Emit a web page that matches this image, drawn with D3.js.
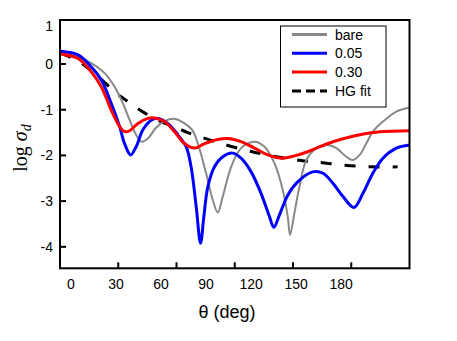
<!DOCTYPE html>
<html><head><meta charset="utf-8">
<script src="https://cdn.jsdelivr.net/npm/d3@7"></script>
<style>body{margin:0;background:#fff}svg{display:block}text{font-family:Arial,"Liberation Sans",sans-serif}</style>
</head><body><svg id="c" width="457" height="341"></svg>
<script>
// series: [theta (deg), log sigma_d]
const bare = [[-6.9,0.23],[4.7,0.16],[13.5,0.02],[22.4,-0.20],[29.1,-0.50],[34.6,-0.86],[39.1,-1.23],[43.4,-1.55],[47.2,-1.70],[51.2,-1.63],[56.8,-1.39],[62.3,-1.25],[69.0,-1.20],[75.6,-1.30],[80.7,-1.44],[84.5,-1.74],[90.0,-2.39],[94.5,-2.98],[97.8,-3.25],[101.1,-2.90],[106.7,-2.25],[113.3,-1.84],[122.2,-1.70],[128.9,-1.81],[135.5,-2.17],[141.1,-2.76],[144.4,-3.34],[145.9,-3.74],[148.8,-3.27],[152.2,-2.68],[156.8,-2.10],[163.5,-1.84],[170.1,-1.77],[176.8,-1.84],[183.4,-2.03],[187.8,-2.10],[192.3,-1.99],[196.7,-1.74],[201.1,-1.48],[207.8,-1.26],[216.7,-1.04],[225.5,-0.95]];
const s005 = [[-6.9,0.28],[4.7,0.20],[13.5,-0.06],[20.2,-0.35],[26.8,-0.86],[32.4,-1.37],[35.7,-1.74],[39.7,-1.99],[43.4,-1.81],[47.9,-1.44],[53.4,-1.23],[57.9,-1.19],[64.5,-1.30],[71.2,-1.55],[76.7,-1.81],[80.0,-2.25],[83.4,-3.12],[86.3,-3.92],[88.5,-3.34],[91.2,-2.68],[95.6,-2.25],[101.1,-2.03],[107.8,-1.95],[113.3,-2.06],[120.0,-2.36],[126.6,-2.83],[132.2,-3.34],[135.1,-3.57],[138.9,-3.30],[144.4,-2.87],[151.0,-2.58],[161.0,-2.36],[167.9,-2.39],[174.5,-2.61],[181.2,-2.90],[188.5,-3.14],[194.5,-2.83],[201.1,-2.39],[207.8,-2.06],[216.7,-1.84],[225.5,-1.77]];
const s030 = [[-6.9,0.22],[4.7,0.12],[13.5,-0.17],[20.2,-0.50],[26.8,-1.01],[32.4,-1.37],[35.7,-1.48],[39.1,-1.46],[44.6,-1.30],[51.2,-1.19],[55.7,-1.18],[62.3,-1.26],[69.0,-1.48],[75.6,-1.74],[82.3,-1.84],[89.0,-1.74],[97.8,-1.65],[104.5,-1.63],[113.3,-1.70],[122.2,-1.84],[131.1,-1.99],[139.9,-2.06],[148.8,-2.01],[157.7,-1.92],[163.5,-1.84],[174.5,-1.70],[187.8,-1.58],[201.1,-1.50],[214.4,-1.47],[225.5,-1.46]];
const hgFit = [[-6.9,0.24],[4.7,0.07],[10.2,-0.06],[18.4,-0.28],[29.1,-0.61],[35.7,-0.77],[42.4,-0.93],[49.0,-1.07],[59.2,-1.25],[70.1,-1.39],[77.8,-1.50],[86.7,-1.60],[100.0,-1.74],[115.6,-1.88],[123.3,-1.94],[133.3,-2.01],[153.2,-2.11],[167.9,-2.16],[181.2,-2.21],[198.9,-2.25],[217.6,-2.25]];
const xTickLabels = [0,30,60,90,120,150,180];
const xTickMarks = [1,2,3,4,5];
const yTickLabels = [1,0,-1,-2,-3,-4];
const yTickMarks = [0,-1,-2,-3,-4];
const legendNames = ["bare","0.05","0.30","HG fit"];

const svg = d3.select("#c");
const L=60,R=409.5,T=20,B=268.3;
const x = d3.scaleLinear().domain([-7.32,225.5]).range([L,R]);
const xt = d3.scaleLinear().domain([0,6]).range([L,R]);
const y = d3.scaleLinear().domain([0.963,-4.47]).range([T,B]);

const line = d3.line().x(d=>x(d[0])).y(d=>y(d[1])).curve(d3.curveCatmullRom.alpha(0.5));
svg.append("defs").append("clipPath").attr("id","cp").append("rect").attr("x",L).attr("y",T).attr("width",R-L).attr("height",B-T);
const g = svg.append("g").attr("clip-path","url(#cp)");
const series = [
  {d:bare,c:"#888888",w:2,dash:null},
  {d:s030,c:"#ff0000",w:3,dash:null},
  {d:s005,c:"#0000ff",w:3,dash:null},
  {d:hgFit,c:"#000000",w:3,dash:"11,13"}
];
g.selectAll("path.s").data([series[3],series[0],series[2],series[1]]).enter().append("path")
  .attr("d",s=>line(s.d)).attr("fill","none").attr("stroke",s=>s.c).attr("stroke-width",s=>s.w)
  .attr("stroke-dasharray",s=>s.dash);

// frame
svg.append("rect").attr("x",L).attr("y",T).attr("width",R-L).attr("height",B-T).attr("fill","none").attr("stroke","#000").attr("stroke-width",2);
// ticks (inward)
svg.selectAll("line.xt").data(xTickMarks).enter().append("line")
  .attr("x1",d=>xt(d)).attr("x2",d=>xt(d)).attr("y1",B).attr("y2",B-6).attr("stroke","#000").attr("stroke-width",2);
svg.selectAll("line.yt").data(yTickMarks).enter().append("line")
  .attr("x1",L).attr("x2",L+6).attr("y1",d=>y(d)).attr("y2",d=>y(d)).attr("stroke","#000").attr("stroke-width",2);
svg.selectAll("text.xl").data(xTickLabels).enter().append("text")
  .attr("x",d=>x(d)).attr("y",289).attr("text-anchor","middle").attr("font-size",14).text(d=>d);
svg.selectAll("text.yl").data(yTickLabels).enter().append("text")
  .attr("x",53).attr("y",d=>Math.max(y(d),25.5)).attr("dy","0.36em").attr("text-anchor","end").attr("font-size",14).text(d=>d);
svg.append("text").attr("x",227).attr("y",318).attr("text-anchor","middle").attr("font-size",18).text("θ (deg)");
const yl = svg.append("text").attr("transform","translate(27,148) rotate(-90)").attr("text-anchor","middle")
  .style("font-family","'Times New Roman','Liberation Serif',serif").attr("font-size",20);
yl.append("tspan").text("log ");
yl.append("tspan").attr("font-style","italic").text("σ");
yl.append("tspan").attr("font-style","italic").attr("font-size",14).attr("dy",4).text("d");

// legend
const lg = svg.append("g");
lg.append("rect").attr("x",280.5).attr("y",26).attr("width",105.5).attr("height",81).attr("fill","#fff").attr("stroke","#000").attr("stroke-width",1);
const legOrder = [series[0],series[2],series[1],series[3]];
legendNames.forEach((n,i)=>{
  const yy = 34.5 + i*18.8;
  lg.append("line").attr("x1",292).attr("x2",327).attr("y1",yy).attr("y2",yy)
    .attr("stroke",legOrder[i].c).attr("stroke-width",3).attr("stroke-dasharray",legOrder[i].dash?"9,5":null);
  lg.append("text").attr("x",335).attr("y",yy).attr("dy","0.36em").attr("font-size",14).text(n);
});
</script></body></html>
